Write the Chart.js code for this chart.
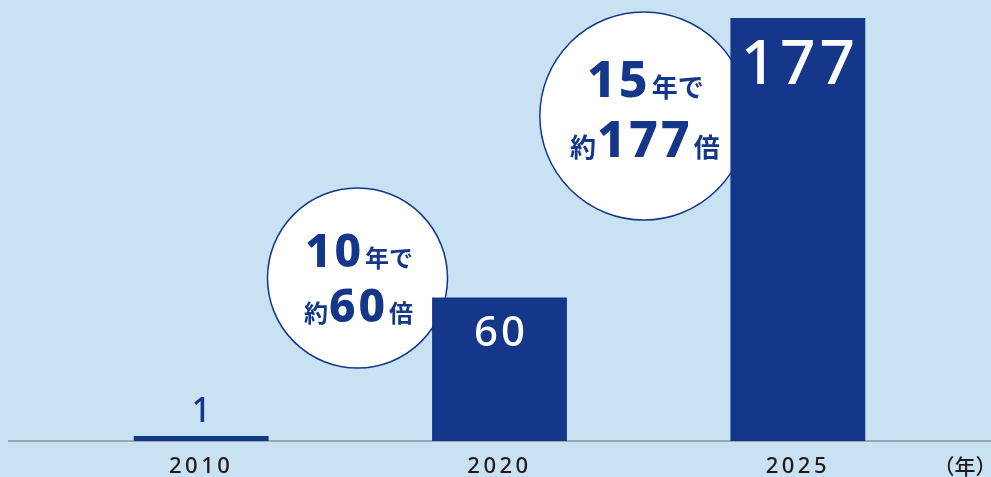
<!DOCTYPE html>
<html>
<head>
<meta charset="utf-8">
<script src="https://cdn.jsdelivr.net/npm/chart.js@4.4.1/dist/chart.umd.min.js"></script>
<style>
  html, body { margin: 0; padding: 0; background: #c8e1f3; }
  #wrap { width: 991px; height: 477px; position: relative; }
</style>
</head>
<body>
<div id="wrap"><canvas id="chart"></canvas></div>
<script>
const years = ['2010', '2020', '2025'];
const values = [1, 60, 177];
const unitLabel = '（年）';
// bubble text lines, digits drawn big
const bubble1 = [['10', '年で'], ['約', '60', '倍']];
const bubble2 = [['15', '年で'], ['約', '177', '倍']];

const navy = '#14378a';
const bg = '#c8e1f3';

function drawParts(ctx, parts, cx, y, bigSize, smallSize) {
  const isNum = p => /^\d+$/.test(p);
  const fontOf = p => isNum(p)
    ? '800 ' + bigSize + 'px "Noto Sans"'
    : 'bold ' + smallSize + 'px "Noto Sans CJK JP"';
  let total = 0;
  const widths = parts.map(p => {
    ctx.font = fontOf(p);
    ctx.letterSpacing = isNum(p) ? '3px' : '0px';
    const w = ctx.measureText(p).width + (isNum(p) ? 2 : 0);
    total += w;
    return w;
  });
  let x = cx - total / 2;
  ctx.textAlign = 'left';
  ctx.textBaseline = 'alphabetic';
  parts.forEach((p, i) => {
    ctx.font = fontOf(p);
    ctx.letterSpacing = isNum(p) ? '3px' : '0px';
    ctx.fillText(p, x + (isNum(p) ? 1 : 0), y);
    x += widths[i];
  });
}

const decor = {
  id: 'decor',
  beforeDraw(chart) {
    const ctx = chart.ctx;
    ctx.save();
    ctx.fillStyle = bg;
    ctx.fillRect(0, 0, chart.width, chart.height);
    ctx.restore();
    ctx.letterSpacing = '3.5px';
  },
  beforeDatasetsDraw(chart) {
    const ctx = chart.ctx;
    const y0 = chart.scales.y.getPixelForValue(0);
    const bars = chart.getDatasetMeta(0).data;
    ctx.save();
    ctx.letterSpacing = '0px';
    // baseline
    ctx.strokeStyle = '#8c9299';
    ctx.lineWidth = 1.5;
    ctx.beginPath();
    ctx.moveTo(8, y0);
    ctx.lineTo(chart.width, y0);
    ctx.stroke();

    const circles = [
      { cx: bars[1].x - 142, cy: 278, r: 90, lines: bubble1, y1: 267, y2: 322, big: 46, small: 24 },
      { cx: bars[2].x - 154, cy: 116, r: 104, lines: bubble2, y1: 97, y2: 157, big: 50, small: 26 }
    ];
    circles.forEach(c => {
      ctx.beginPath();
      ctx.arc(c.cx, c.cy, c.r, 0, Math.PI * 2);
      ctx.fillStyle = '#ffffff';
      ctx.fill();
      ctx.strokeStyle = navy;
      ctx.lineWidth = 1.5;
      ctx.stroke();
      ctx.fillStyle = navy;
      drawParts(ctx, c.lines[0], c.cx + 1, c.y1, c.big, c.small);
      drawParts(ctx, c.lines[1], c.cx + 1, c.y2, c.big, c.small);
    });
    ctx.restore();
  },
  afterDatasetsDraw(chart) {
    const ctx = chart.ctx;
    const bars = chart.getDatasetMeta(0).data;
    ctx.save();
    ctx.textAlign = 'center';
    ctx.textBaseline = 'middle';
    ctx.letterSpacing = '0px';
    ctx.fillStyle = navy;
    ctx.font = '500 34px "Noto Sans"';
    ctx.fillText(String(values[0]), bars[0].x, bars[0].y - 24);

    ctx.fillStyle = '#ffffff';
    ctx.letterSpacing = '3px';
    ctx.font = '500 42px "Noto Sans"';
    ctx.fillText(String(values[1]), bars[1].x + 1.5, bars[1].y + 36);

    ctx.letterSpacing = '4px';
    ctx.font = '500 62px "Noto Sans"';
    ctx.fillText(String(values[2]), bars[2].x + 2, bars[2].y + 48);

    ctx.letterSpacing = '0px';
    ctx.fillStyle = '#231815';
    ctx.font = '500 21px "Noto Sans CJK JP"';
    ctx.fillText(unitLabel, 965, 466);
    ctx.restore();
  }
};

new Chart(document.getElementById('chart'), {
  type: 'bar',
  data: {
    labels: years,
    datasets: [{
      data: values,
      backgroundColor: navy,
      borderWidth: 0,
      minBarLength: 5,
      categoryPercentage: 1,
      barPercentage: 0.452
    }]
  },
  options: {
    responsive: true,
    maintainAspectRatio: false,
    animation: false,
    layout: { padding: { left: 52, right: 44, top: 0, bottom: 0 } },
    plugins: { legend: { display: false }, tooltip: { enabled: false } },
    scales: {
      x: {
        grid: { display: false, drawTicks: false },
        border: { display: false },
        ticks: {
          color: '#231815',
          font: { family: '"Noto Sans"', size: 22, weight: '500' },
          padding: 13
        },
        afterFit(scale) { scale.height = 36; }
      },
      y: {
        display: false,
        min: 0,
        max: 184.5
      }
    }
  },
  plugins: [decor]
});
</script>
</body>
</html>
